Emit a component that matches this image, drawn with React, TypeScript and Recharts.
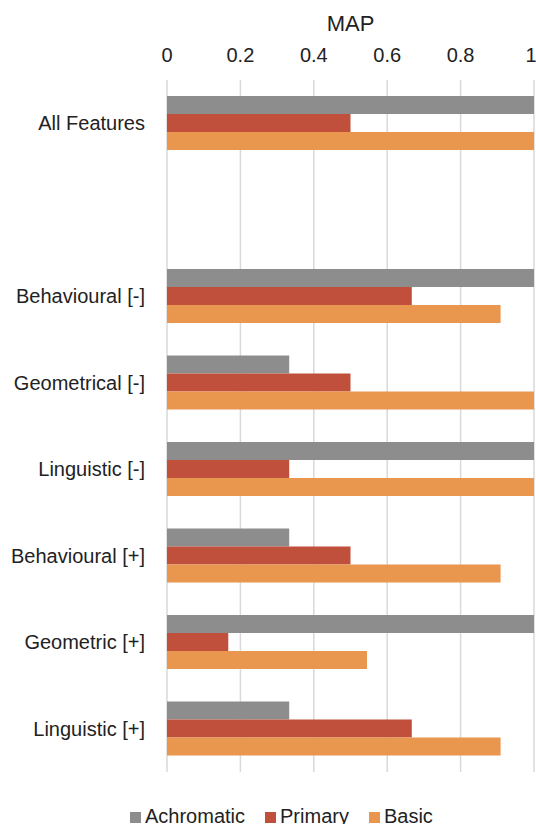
import { BarChart, Bar, XAxis, YAxis, CartesianGrid, Legend } from "recharts";

const categories = [
  "All Features",
  "",
  "Behavioural [-]",
  "Geometrical [-]",
  "Linguistic [-]",
  "Behavioural [+]",
  "Geometric [+]",
  "Linguistic [+]",
];

const achromatic = [1, null, 1, 0.333, 1, 0.333, 1, 0.333];
const primary = [0.5, null, 0.667, 0.5, 0.333, 0.5, 0.167, 0.667];
const basic = [1, null, 0.909, 1, 1, 0.909, 0.545, 0.909];

const seriesOrder = ["Achromatic", "Primary", "Basic"];
const xTicks = [0, 0.2, 0.4, 0.6, 0.8, 1];

const data = categories.map((name, i) => ({
  name,
  Achromatic: achromatic[i],
  Primary: primary[i],
  Basic: basic[i],
}));

const textColor = "#222222";

export default function App() {
  return (
    <div
      style={{
        position: "absolute",
        left: 0,
        top: 0,
        fontFamily: "'Liberation Sans', Arial, sans-serif",
      }}
    >
      <BarChart
        width={536}
        height={830}
        data={data}
        layout="vertical"
        margin={{ top: 12, right: 2, bottom: 35, left: 0 }}
        barCategoryGap="18.5%"
        barGap={0}
      >
        <CartesianGrid horizontal={false} stroke="#d9d9d9" strokeWidth={1.5} />
        <XAxis
          type="number"
          orientation="top"
          domain={[0, 1]}
          ticks={xTicks}
          height={68}
          axisLine={false}
          tickLine={false}
          tickSize={6}
          tickMargin={12}
          tick={{ fill: textColor, fontSize: 20 }}
          label={{
            value: "MAP",
            position: "insideTop",
            offset: 3,
            fill: textColor,
            fontSize: 22,
          }}
        />
        <YAxis
          type="category"
          dataKey="name"
          width={167}
          axisLine={false}
          tickLine={false}
          tickSize={6}
          tickMargin={16}
          interval={0}
          tick={{ fill: textColor, fontSize: 20 }}
        />
        <Legend
          verticalAlign="bottom"
          align="left"
          iconType="square"
          iconSize={11}
          itemSorter={(item: any) => seriesOrder.indexOf(String(item.value))}
          wrapperStyle={{ bottom: 2, left: 130, width: "auto", fontSize: 20 }}
          formatter={(value) => (
            <span style={{ color: textColor, marginRight: 10 }}>{value}</span>
          )}
        />
        <Bar dataKey="Achromatic" fill="#8d8d8e" isAnimationActive={false} />
        <Bar dataKey="Primary" fill="#c0503b" isAnimationActive={false} />
        <Bar dataKey="Basic" fill="#e9964f" isAnimationActive={false} />
      </BarChart>
    </div>
  );
}
